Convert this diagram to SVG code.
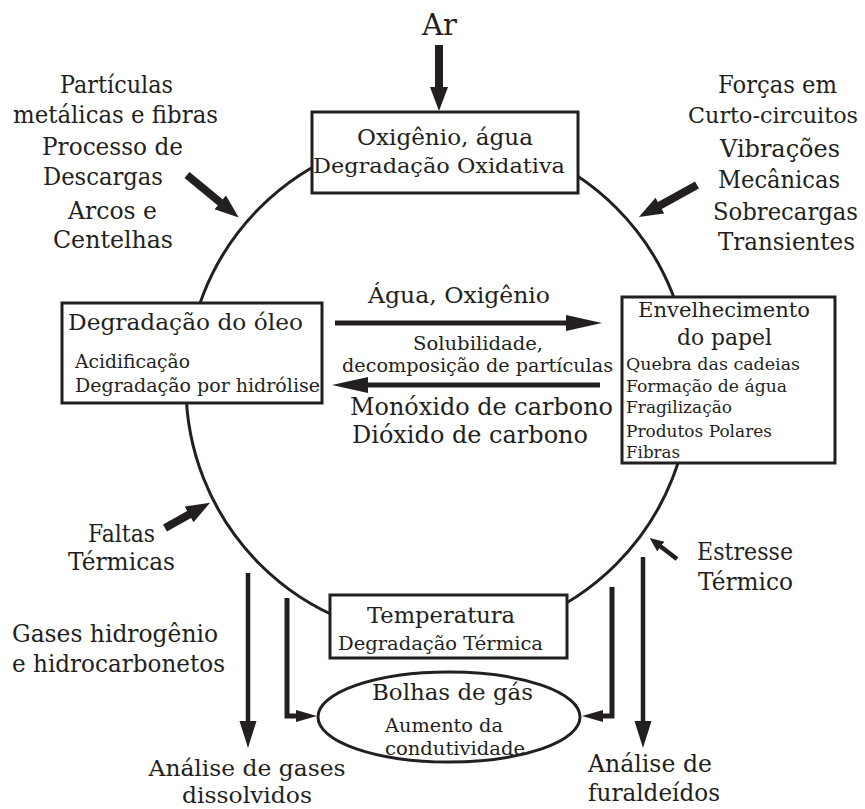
<svg xmlns="http://www.w3.org/2000/svg" width="865" height="809" viewBox="0 0 865 809">
  <style>
    text { font-family: "DejaVu Serif", "Liberation Serif", serif; fill: #231f20; }
    .c { text-anchor: middle; }
    .s { text-anchor: start; }
    .box { fill: #ffffff; stroke: #231f20; stroke-width: 3; }
    .ring { fill: none; stroke: #231f20; stroke-width: 3; }
    .thick { fill: none; stroke: #231f20; stroke-width: 8; }
    .mid { fill: none; stroke: #231f20; stroke-width: 5; }
    .thin { fill: none; stroke: #231f20; stroke-width: 4.5; }
  </style>
  <defs>
    <marker id="head-big" markerUnits="userSpaceOnUse" markerWidth="24" markerHeight="20" viewBox="0 0 24 20" refX="1" refY="10" orient="auto">
      <path d="M0,1 L24,10 L0,19 z" fill="#231f20"/>
    </marker>
    <marker id="head-small" markerUnits="userSpaceOnUse" markerWidth="14" markerHeight="14" viewBox="0 0 14 14" refX="1" refY="7" orient="auto">
      <path d="M0,1 L14,7 L0,13 z" fill="#231f20"/>
    </marker>
    <marker id="head-long" markerUnits="userSpaceOnUse" markerWidth="36" markerHeight="18" viewBox="0 0 36 18" refX="1" refY="9" orient="auto">
      <path d="M0,1 L36,9 L0,17 z" fill="#231f20"/>
    </marker>
    <marker id="head-vert" markerUnits="userSpaceOnUse" markerWidth="27" markerHeight="18" viewBox="0 0 27 18" refX="1" refY="9" orient="auto">
      <path d="M0,0.5 L27,9 L0,17.5 z" fill="#231f20"/>
    </marker>
    <marker id="head-brk" markerUnits="userSpaceOnUse" markerWidth="21" markerHeight="14" viewBox="0 0 21 14" refX="1" refY="7" orient="auto">
      <path d="M0,1 L21,7 L0,13 z" fill="#231f20"/>
    </marker>
  </defs>

  <!-- degradation cycle ring -->
  <circle id="cycle" class="ring" cx="438" cy="386" r="252"/>

  <!-- connectors -->
  <g id="connectors">
    <path class="thick" d="M439,45 V88" marker-end="url(#head-big)"/>
    <path class="thick" d="M187,175 L221,203" marker-end="url(#head-big)"/>
    <path class="thick" d="M697,185 L659,206" marker-end="url(#head-big)"/>
    <path class="thick" d="M165,528 L190,514" marker-end="url(#head-big)"/>
    <path class="thin" d="M677,559 L660,546" marker-end="url(#head-small)"/>
    <path class="mid" d="M335,323 H567" marker-end="url(#head-long)"/>
    <path class="mid" d="M600,385 H367" marker-end="url(#head-long)"/>
    <path class="thin" d="M248,573 V722" marker-end="url(#head-vert)"/>
    <path class="thin" d="M643,557 V722" marker-end="url(#head-vert)"/>
    <path class="mid" d="M287,598 V716 H297" marker-end="url(#head-brk)"/>
    <path class="mid" d="M612,587 V716 H602" marker-end="url(#head-brk)"/>
  </g>

  <!-- external influences -->
  <g id="air">
    <text class="c" x="439.5" y="35" font-size="30" textLength="35" lengthAdjust="spacingAndGlyphs">Ar</text>
  </g>
  <g id="particles">
    <text class="c" x="116.5" y="93" font-size="24" textLength="113" lengthAdjust="spacingAndGlyphs">Partículas</text>
    <text class="c" x="115.5" y="123" font-size="24" textLength="205" lengthAdjust="spacingAndGlyphs">metálicas e fibras</text>
    <text class="c" x="112.5" y="155" font-size="24" textLength="141" lengthAdjust="spacingAndGlyphs">Processo de</text>
    <text class="c" x="103" y="185" font-size="24" textLength="120" lengthAdjust="spacingAndGlyphs">Descargas</text>
    <text class="c" x="112.5" y="219" font-size="24" textLength="89" lengthAdjust="spacingAndGlyphs">Arcos e</text>
    <text class="c" x="113" y="248" font-size="24" textLength="120" lengthAdjust="spacingAndGlyphs">Centelhas</text>
  </g>
  <g id="mechanical">
    <text class="c" x="777.5" y="93" font-size="24" textLength="119" lengthAdjust="spacingAndGlyphs">Forças em</text>
    <text class="c" x="773" y="123" font-size="22" textLength="170" lengthAdjust="spacingAndGlyphs">Curto-circuitos</text>
    <text class="c" x="780" y="157" font-size="24" textLength="120" lengthAdjust="spacingAndGlyphs">Vibrações</text>
    <text class="c" x="779" y="188" font-size="24" textLength="122" lengthAdjust="spacingAndGlyphs">Mecânicas</text>
    <text class="c" x="785.5" y="220" font-size="24" textLength="145" lengthAdjust="spacingAndGlyphs">Sobrecargas</text>
    <text class="c" x="786.5" y="250" font-size="24" textLength="137" lengthAdjust="spacingAndGlyphs">Transientes</text>
  </g>
  <g id="thermal-faults">
    <text class="c" x="121.5" y="542" font-size="24" textLength="67" lengthAdjust="spacingAndGlyphs">Faltas</text>
    <text class="c" x="121.5" y="570" font-size="24" textLength="107" lengthAdjust="spacingAndGlyphs">Térmicas</text>
  </g>
  <g id="thermal-stress">
    <text class="s" x="697" y="560" font-size="24" textLength="96" lengthAdjust="spacingAndGlyphs">Estresse</text>
    <text class="s" x="698" y="590" font-size="24" textLength="95" lengthAdjust="spacingAndGlyphs">Térmico</text>
  </g>
  <g id="gases">
    <text class="s" x="12" y="642" font-size="24" textLength="206" lengthAdjust="spacingAndGlyphs">Gases hidrogênio</text>
    <text class="s" x="12" y="672" font-size="24" textLength="213" lengthAdjust="spacingAndGlyphs">e hidrocarbonetos</text>
  </g>

  <!-- exchange between oil and paper -->
  <g id="exchange">
    <text class="c" x="459" y="303" font-size="23" textLength="182" lengthAdjust="spacingAndGlyphs">Água, Oxigênio</text>
    <text class="c" x="478" y="350" font-size="19" textLength="130" lengthAdjust="spacingAndGlyphs">Solubilidade,</text>
    <text class="c" x="477.5" y="372" font-size="19" textLength="271" lengthAdjust="spacingAndGlyphs">decomposição de partículas</text>
    <text class="s" x="350" y="415" font-size="24" textLength="263" lengthAdjust="spacingAndGlyphs">Monóxido de carbono</text>
    <text class="s" x="352" y="443" font-size="24" textLength="236" lengthAdjust="spacingAndGlyphs">Dióxido de carbono</text>
  </g>

  <!-- process nodes -->
  <g id="oxidation">
    <rect class="box" x="312" y="112" width="266" height="81"/>
    <text class="c" x="445" y="145" font-size="22" textLength="176" lengthAdjust="spacingAndGlyphs">Oxigênio, água</text>
    <text class="c" x="439" y="173" font-size="20" textLength="252" lengthAdjust="spacingAndGlyphs">Degradação Oxidativa</text>
  </g>
  <g id="oil">
    <rect class="box" x="62" y="303" width="260" height="100"/>
    <text class="s" x="68" y="330" font-size="22" textLength="235" lengthAdjust="spacingAndGlyphs">Degradação do óleo</text>
    <text class="s" x="75" y="368" font-size="18" textLength="115" lengthAdjust="spacingAndGlyphs">Acidificação</text>
    <text class="s" x="75" y="392" font-size="18" textLength="245" lengthAdjust="spacingAndGlyphs">Degradação por hidrólise</text>
  </g>
  <g id="paper">
    <rect class="box" x="622" y="297" width="213" height="166"/>
    <text class="c" x="724" y="317" font-size="21" textLength="172" lengthAdjust="spacingAndGlyphs">Envelhecimento</text>
    <text class="c" x="724.5" y="345" font-size="22" textLength="95" lengthAdjust="spacingAndGlyphs">do papel</text>
    <text class="s" x="626" y="370" font-size="17.5" textLength="174" lengthAdjust="spacingAndGlyphs">Quebra das cadeias</text>
    <text class="s" x="626" y="392" font-size="17.5" textLength="161" lengthAdjust="spacingAndGlyphs">Formação de água</text>
    <text class="s" x="626" y="413" font-size="17.5" textLength="106" lengthAdjust="spacingAndGlyphs">Fragilização</text>
    <text class="s" x="626" y="437" font-size="17.5" textLength="146" lengthAdjust="spacingAndGlyphs">Produtos Polares</text>
    <text class="s" x="626" y="458" font-size="17.5" textLength="54" lengthAdjust="spacingAndGlyphs">Fibras</text>
  </g>
  <g id="temperature">
    <rect class="box" x="330" y="595" width="237" height="63"/>
    <text class="c" x="441" y="623" font-size="22" textLength="148" lengthAdjust="spacingAndGlyphs">Temperatura</text>
    <text class="c" x="440.5" y="650" font-size="19" textLength="205" lengthAdjust="spacingAndGlyphs">Degradação Térmica</text>
  </g>
  <g id="bubbles">
    <ellipse class="box" cx="449" cy="717" rx="131" ry="45"/>
    <text class="c" x="452.5" y="700" font-size="22" textLength="161" lengthAdjust="spacingAndGlyphs">Bolhas de gás</text>
    <text class="s" x="385" y="732" font-size="18" textLength="118" lengthAdjust="spacingAndGlyphs">Aumento da</text>
    <text class="s" x="385" y="755" font-size="18" textLength="140" lengthAdjust="spacingAndGlyphs">condutividade</text>
  </g>

  <!-- analyses -->
  <g id="dga">
    <text class="c" x="247" y="776" font-size="23" textLength="197" lengthAdjust="spacingAndGlyphs">Análise de gases</text>
    <text class="c" x="247" y="803" font-size="23" textLength="130" lengthAdjust="spacingAndGlyphs">dissolvidos</text>
  </g>
  <g id="furan">
    <text class="s" x="588" y="772" font-size="24" textLength="124" lengthAdjust="spacingAndGlyphs">Análise de</text>
    <text class="s" x="588" y="801" font-size="24" textLength="132" lengthAdjust="spacingAndGlyphs">furaldeídos</text>
  </g>
</svg>
